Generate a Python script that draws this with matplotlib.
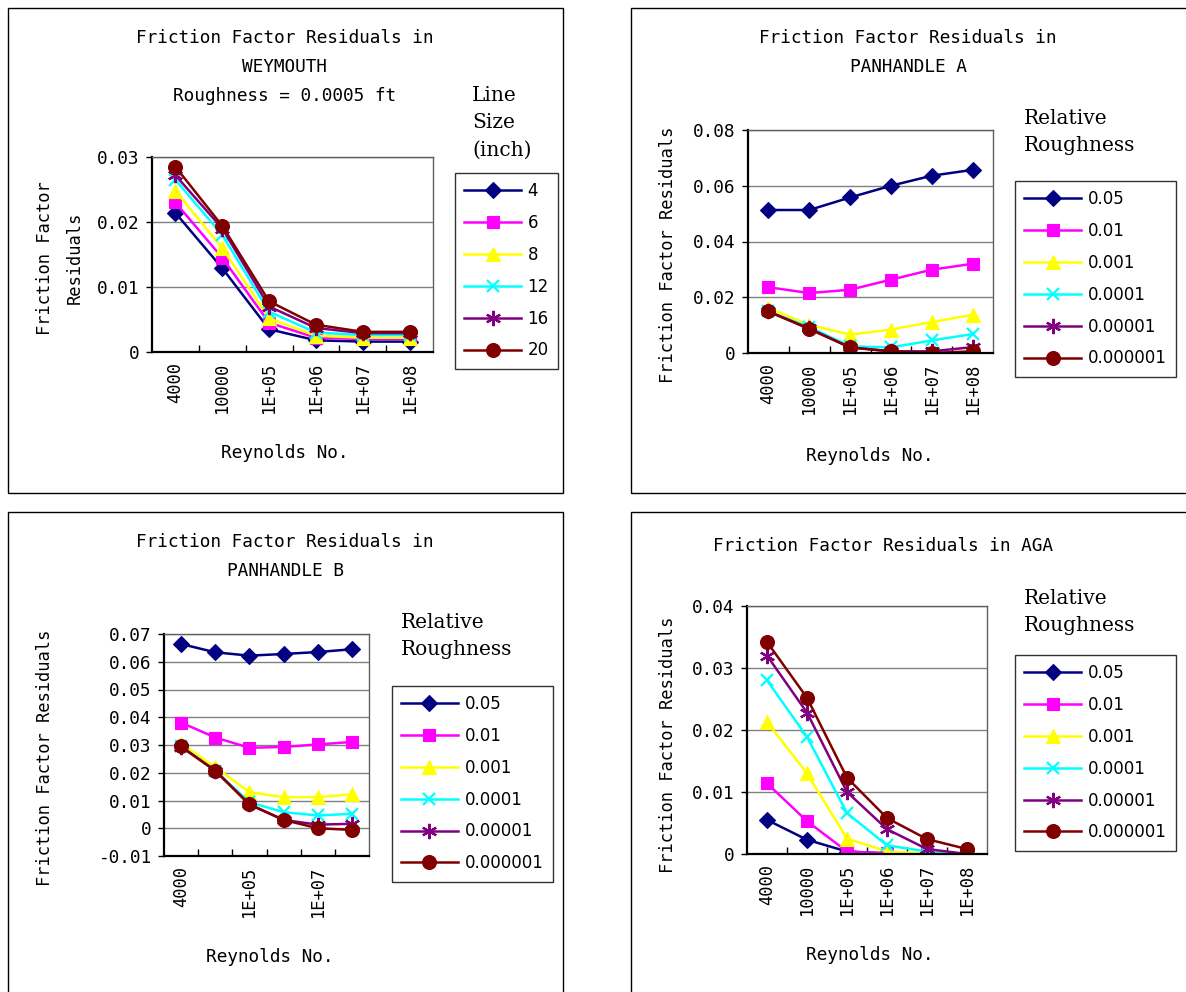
import matplotlib
matplotlib.use("Agg")
import matplotlib.pyplot as plt
from matplotlib.patches import Rectangle

# ---------------- data ----------------
reynolds = ["4000", "10000", "1E+05", "1E+06", "1E+07", "1E+08"]

wey_labels = ["4", "6", "8", "12", "16", "20"]
wey_4 = [0.0214, 0.0129, 0.0035, 0.0018, 0.0016, 0.0016]
wey_6 = [0.0230, 0.0145, 0.0045, 0.0022, 0.0020, 0.0020]
wey_8 = [0.0248, 0.0160, 0.0052, 0.0025, 0.0022, 0.0022]
wey_12 = [0.0265, 0.0180, 0.0062, 0.0030, 0.0026, 0.0026]
wey_16 = [0.0272, 0.0190, 0.0070, 0.0037, 0.0029, 0.0029]
wey_20 = [0.0285, 0.0194, 0.0078, 0.0042, 0.0031, 0.0031]

rough_labels = ["0.05", "0.01", "0.001", "0.0001", "0.00001", "0.000001"]

pa_005 = [0.0513, 0.0513, 0.0558, 0.0600, 0.0636, 0.0657]
pa_001 = [0.0236, 0.0215, 0.0227, 0.0263, 0.0299, 0.0320]
pa_0001 = [0.0161, 0.0101, 0.0066, 0.0084, 0.0111, 0.0137]
pa_00001 = [0.0149, 0.0093, 0.0024, 0.0020, 0.0045, 0.0068]
pa_000001 = [0.0149, 0.0088, 0.0020, 0.0006, 0.0006, 0.0021]
pa_0000001 = [0.0149, 0.0086, 0.0020, 0.0006, 0.0000, 0.0006]

pb_005 = [0.0664, 0.0634, 0.0622, 0.0628, 0.0635, 0.0645]
pb_001 = [0.0381, 0.0327, 0.0290, 0.0293, 0.0302, 0.0311]
pb_0001 = [0.0305, 0.0220, 0.0130, 0.0112, 0.0112, 0.0122]
pb_00001 = [0.0295, 0.0208, 0.0094, 0.0058, 0.0046, 0.0052]
pb_000001 = [0.0293, 0.0208, 0.0086, 0.0030, 0.0013, 0.0016]
pb_0000001 = [0.0295, 0.0207, 0.0086, 0.0030, 0.0000, -0.0006]

aga_005 = [0.0055, 0.0023, 0.0004, 0.0001, 0.0000, 0.0000]
aga_001 = [0.0114, 0.0053, 0.0004, 0.0001, 0.0000, 0.0000]
aga_0001 = [0.0213, 0.0130, 0.0025, 0.0004, 0.0001, 0.0000]
aga_00001 = [0.0280, 0.0189, 0.0066, 0.0014, 0.0004, 0.0000]
aga_000001 = [0.0320, 0.0228, 0.0100, 0.0040, 0.0008, 0.0000]
aga_0000001 = [0.0342, 0.0252, 0.0123, 0.0058, 0.0024, 0.0008]

# ---------------- styles ----------------
colors = ["#000080", "#FF00FF", "#FFFF00", "#00FFFF", "#800080", "#800000"]
markers = ["D", "s", "^", "x", (6, 2, 0), "o"]
msizes = [8, 9, 10, 9, 11, 10]

W, H = 1186, 992
fig = plt.figure(figsize=(W / 100, H / 100), dpi=100)
plt.rcParams["font.family"] = ["DejaVu Sans"]
MONO = ["DejaVu Sans Mono"]
FS = 12.8


def fx(px):
    return px / W


def fy(py):
    return 1 - py / H


# panel borders
for (x0, y0, x1, y1) in [(8, 8, 563, 493), (631, 8, 1190, 493),
                         (8, 512, 563, 996), (631, 512, 1190, 996)]:
    fig.patches.append(Rectangle((fx(x0), fy(y1)), fx(x1 - x0), (y1 - y0) / H,
                                 transform=fig.transFigure, fill=False,
                                 edgecolor="black", linewidth=1.0))


def panel(box, series, labels, ylim, yticks, yticklabels, title, title_xy,
          ylabel, ylabel_xy, xlabel_xy, leg_title, leg_title_xy, leg_xy,
          xticklabels):
    l, t, r, b = box
    ax = fig.add_axes([fx(l), fy(b), fx(r - l), (b - t) / H])
    xs = list(range(len(reynolds)))
    for i, ys in enumerate(series):
        ax.plot(xs, ys, color=colors[i], marker=markers[i], markersize=msizes[i],
                markeredgewidth=1.6 if i in (3, 4) else 0.8,
                markeredgecolor=colors[i], linewidth=1.8, label=labels[i])
    ax.set_xlim(-0.5, len(reynolds) - 0.5)
    ax.set_ylim(*ylim)
    ax.set_yticks(yticks)
    ax.set_yticklabels(yticklabels, fontsize=FS, family=MONO)
    ax.set_xticks(xs)
    ax.set_xticklabels(xticklabels, rotation=90, fontsize=FS - 0.5, family=MONO)
    ax.tick_params(axis="x", which="major", length=0, pad=7)
    ax.set_xticks([i + 0.5 for i in xs[:-1]], minor=True)
    ax.tick_params(axis="x", which="minor", direction="in", length=5, width=1)
    ax.tick_params(axis="y", direction="out", length=4, width=1, pad=5)
    ax.grid(axis="y", color="#808080", linewidth=1)
    ax.set_axisbelow(True)
    for s in ("left", "bottom"):
        ax.spines[s].set_linewidth(1.6)
        ax.spines[s].set_color("black")
    for s in ("top", "right"):
        ax.spines[s].set_linewidth(1.0)
        ax.spines[s].set_color("#606060")
    fig.text(fx(title_xy[0]), fy(title_xy[1]), title, ha="center", va="top",
             fontsize=FS, linespacing=1.78, family=MONO)
    fig.text(fx(ylabel_xy[0]), fy(ylabel_xy[1]), ylabel, ha="center", va="center",
             rotation=90, fontsize=FS - 0.5, linespacing=1.8, family=MONO)
    fig.text(fx(xlabel_xy[0]), fy(xlabel_xy[1]), "Reynolds No.", ha="center",
             va="center", fontsize=FS, family=MONO)
    fig.text(fx(leg_title_xy[0]), fy(leg_title_xy[1]), leg_title, ha="left",
             va="top", fontsize=14.5, family=["DejaVu Serif"], linespacing=1.55)
    leg = ax.legend(loc="upper left", bbox_to_anchor=(fx(leg_xy[0]), fy(leg_xy[1])),
                    bbox_transform=fig.transFigure, fontsize=12,
                    frameon=True, fancybox=False, edgecolor="black",
                    handlelength=3.4, labelspacing=0.83, borderpad=0.55,
                    handletextpad=0.4, borderaxespad=0)
    leg.get_frame().set_linewidth(1.0)
    return ax


panel((152, 157, 433, 352),
      [wey_4, wey_6, wey_8, wey_12, wey_16, wey_20], wey_labels,
      (0, 0.03), [0, 0.01, 0.02, 0.03], ["0", "0.01", "0.02", "0.03"],
      "Friction Factor Residuals in\nWEYMOUTH\nRoughness = 0.0005 ft", (285, 29),
      "Friction Factor\nResiduals", (60, 258), (285, 453),
      "Line\nSize\n(inch)", (472, 86), (455, 173), reynolds)

panel((748, 130, 993, 353),
      [pa_005, pa_001, pa_0001, pa_00001, pa_000001, pa_0000001], rough_labels,
      (0, 0.08), [0, 0.02, 0.04, 0.06, 0.08], ["0", "0.02", "0.04", "0.06", "0.08"],
      "Friction Factor Residuals in\nPANHANDLE A", (908, 29),
      "Friction Factor Residuals", (668, 255), (870, 456),
      "Relative\nRoughness", (1024, 109), (1015, 181), reynolds)

panel((164, 634, 369, 856),
      [pb_005, pb_001, pb_0001, pb_00001, pb_000001, pb_0000001], rough_labels,
      (-0.01, 0.07), [-0.01, 0, 0.01, 0.02, 0.03, 0.04, 0.05, 0.06, 0.07],
      ["-0.01", "0", "0.01", "0.02", "0.03", "0.04", "0.05", "0.06", "0.07"],
      "Friction Factor Residuals in\nPANHANDLE B", (285, 533),
      "Friction Factor Residuals", (45, 758), (270, 957),
      "Relative\nRoughness", (401, 613), (392, 686),
      [lab if i % 2 == 0 else "" for i, lab in enumerate(reynolds)])

panel((747, 606, 987, 854),
      [aga_005, aga_001, aga_0001, aga_00001, aga_000001, aga_0000001], rough_labels,
      (0, 0.04), [0, 0.01, 0.02, 0.03, 0.04], ["0", "0.01", "0.02", "0.03", "0.04"],
      "Friction Factor Residuals in AGA", (883, 537),
      "Friction Factor Residuals", (668, 745), (870, 955),
      "Relative\nRoughness", (1024, 589), (1015, 655), reynolds)

fig.savefig("out.png", dpi=100, facecolor="white")
